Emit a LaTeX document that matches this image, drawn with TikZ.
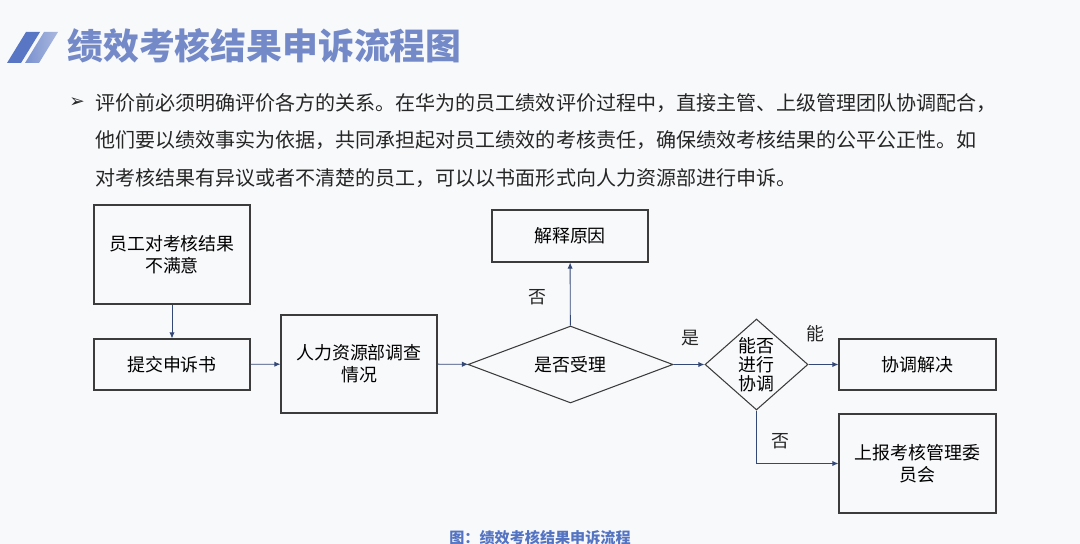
\documentclass[tikz,border=0pt]{standalone}
\usepackage{fontspec}
\setmainfont{Noto Sans CJK SC}
\newfontfamily\symfont{DejaVu Sans}
\usepackage{tikz}
\usetikzlibrary{shapes.geometric, arrows.meta, positioning, calc}

\definecolor{bgwhite}{RGB}{248,249,251}
\definecolor{titleblue}{RGB}{116,138,200}
\definecolor{slashblue}{RGB}{88,118,196}
\definecolor{slashlight}{RGB}{170,184,222}
\definecolor{boxgray}{RGB}{60,60,60}
\definecolor{linkblue}{RGB}{52,72,120}
\definecolor{captionblue}{RGB}{84,116,194}

\begin{document}
\begin{tikzpicture}[x=0.02cm, y=-0.02cm, >={Latex[length=3.5pt,width=3pt]},
    box/.style={rectangle, draw=boxgray, line width=0.6pt, align=center, inner sep=0pt, font=\fontsize{10.2}{12.6}\selectfont},
    choice/.style={diamond, draw=boxgray, line width=0.6pt, align=center, inner sep=0pt, font=\fontsize{10.2}{10.8}\selectfont},
    link/.style={->, draw=linkblue, line width=0.5pt},
    tag/.style={font=\fontsize{10.2}{12}\selectfont, text=black!85},
    bodyline/.style={anchor=west, inner sep=0pt, font=\fontsize{11.4}{13}\selectfont, text=black!85}]

\useasboundingbox[fill=bgwhite] (0,0) rectangle (1080,544);

% title
\fill[slashblue] (7,63) -- (21,63) -- (40,32) -- (26,32) -- cycle;
\shade[left color=slashblue!80, right color=slashlight] (25,63) -- (39,63) -- (58,32) -- (44,32) -- cycle;
\node[anchor=west, inner sep=0pt, text=titleblue, font=\fontsize{20.4}{22}\selectfont\bfseries] (title) at (67,46) {绩效考核结果申诉流程图};

% text
\node[inner sep=0pt, text=black!85, font=\symfont\fontsize{10.5}{11}\selectfont] (bullet) at (77,103) {➢};
\node[bodyline] (line1) at (95,103) {评价前必须明确评价各方的关系。在华为的员工绩效评价过程中，直接主管、上级管理团队协调配合，};
\node[bodyline] (line2) at (95,140.5) {他们要以绩效事实为依据，共同承担起对员工绩效的考核责任，确保绩效考核结果的公平公正性。如};
\node[bodyline] (line3) at (95,178) {对考核结果有异议或者不清楚的员工，可以以书面形式向人力资源部进行申诉。};

% flow
\node[box, minimum width=3.12cm, minimum height=1.98cm] (unhappy) at (172,254.5) {员工对考核结果\\不满意};
\node[box, minimum width=3.12cm, minimum height=1.02cm] (submit) at (172,364.5) {提交申诉书};
\node[box, minimum width=3.12cm, minimum height=1.96cm] (hr) at (359,364) {人力资源部调查\\情况};
\node[choice, shape aspect=2.66, minimum width=4.1cm, minimum height=1.54cm] (accept) at (570.5,364.5) {是否受理};
\node[box, minimum width=3.12cm, minimum height=1.04cm] (explain) at (570,236) {解释原因};
\node[choice, shape aspect=1.1, minimum width=2.06cm, minimum height=1.82cm] (coord) at (756.5,364.5) {能否\\进行\\协调};
\node[box, minimum width=3.14cm, minimum height=1.02cm] (resolve) at (917.5,364.5) {协调解决};
\node[box, minimum width=3.14cm, minimum height=1.98cm] (report) at (917.5,463.5) {上报考核管理委\\员会};

\draw[link] (unhappy) -- (submit);
\draw[link] (submit) -- (hr);
\draw[link] (hr) -- (accept);
\draw[link] (accept) -- (explain);
\draw[link] (accept) -- (coord);
\draw[link] (coord) -- (resolve);
\draw[link] (coord.south) |- (report.west);

\node[tag] (no1) at (537,297) {否};
\node[tag] (yes1) at (690,338) {是};
\node[tag] (can) at (815,334) {能};
\node[tag] (no2) at (780,441) {否};

% caption
\node[text=captionblue, font=\fontsize{8.6}{9}\selectfont\bfseries] (caption) at (540,538) {图：绩效考核结果申诉流程};

\end{tikzpicture}
\end{document}
